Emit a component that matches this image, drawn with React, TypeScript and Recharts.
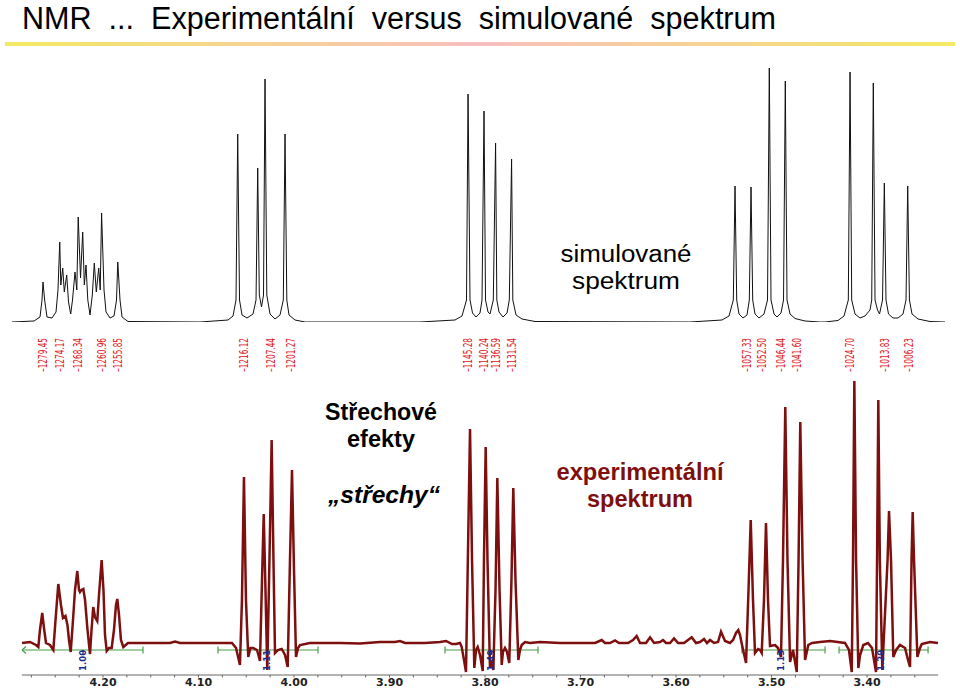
import { ComposedChart, Line, LineChart, ReferenceLine, Scatter, XAxis, YAxis } from 'recharts';

type Pt = [number, number];

// simulated spectrum, [Hz, intensity]
const SIM_GROUP_1: Pt[] = [
  [1289.24, 0], [1282.29, 1], [1280.4, 5], [1279.77, 22], [1279.45, 40], [1278.94, 22], [1278.19, 5],
  [1276.61, 4], [1275.35, 10], [1274.72, 32], [1274.17, 80], [1273.83, 37], [1273.23, 54], [1272.73, 30],
  [1271.97, 47], [1271.4, 20], [1270.71, 8], [1270.14, 22], [1269.35, 50], [1268.78, 32], [1268.34, 105],
  [1267.61, 44], [1266.92, 90], [1266.41, 37], [1265.88, 57], [1265.31, 22], [1264.61, 7], [1263.89, 27],
  [1263.26, 59], [1262.63, 30], [1261.87, 54], [1261.39, 32], [1260.96, 109], [1260.19, 32], [1259.56, 10],
  [1258.3, 4], [1257.04, 6], [1256.25, 22], [1255.85, 60], [1255.14, 22], [1254.51, 5], [1252.62, 0.5],
];
const SIM_GROUP_2: Pt[] = [
  [1229.89, 0], [1221.05, 2], [1219.47, 6], [1218.53, 22], [1217.99, 188], [1217.42, 22], [1216.63, 7],
  [1215.06, 4], [1213.16, 8], [1212.21, 22], [1211.68, 154], [1211.17, 27], [1210.48, 15], [1209.85, 27],
  [1209.37, 243], [1208.81, 27], [1207.79, 8], [1206.22, 3], [1204.64, 7], [1203.6, 22], [1203.06, 188],
  [1202.49, 22], [1201.8, 7], [1199.9, 2], [1196.75, 0],
];
const SIM_GROUP_3: Pt[] = [
  [1160.45, 0], [1149.4, 2], [1147.19, 6], [1145.77, 22], [1145.28, 228], [1144.66, 22], [1143.87, 9],
  [1142.77, 5], [1141.51, 9], [1140.88, 22], [1140.24, 211], [1139.77, 22], [1138.98, 10], [1138.35, 8],
  [1137.31, 22], [1136.59, 179], [1136.2, 22], [1135.51, 10], [1134.25, 5], [1132.98, 9], [1132.26, 22],
  [1131.54, 163], [1131.15, 22], [1130.14, 7], [1128.25, 3], [1124.15, 0.5],
];
const SIM_GROUP_4: Pt[] = [
  [1075.22, 0], [1065.12, 2], [1062.91, 6], [1061.55, 22], [1061.01, 136], [1060.48, 22], [1059.75, 8],
  [1058.49, 4], [1057.23, 7], [1056.5, 22], [1055.96, 135], [1055.43, 22], [1054.7, 8], [1053.44, 4],
  [1051.86, 8], [1050.75, 22], [1050.19, 254], [1049.65, 22], [1048.7, 8], [1047.76, 5], [1046.49, 9],
  [1045.7, 22], [1045.14, 241], [1044.6, 22], [1043.65, 8], [1042.07, 3.5], [1038.92, 1], [1034.18, 0],
];
const SIM_GROUP_5: Pt[] = [
  [1032.6, 0], [1028.5, 1.5], [1026.61, 6], [1025.25, 22], [1024.7, 250], [1024.18, 22], [1023.13, 8],
  [1021.56, 4], [1019.98, 6], [1018.4, 12], [1017.86, 22], [1017.36, 239], [1016.82, 22], [1016.03, 12],
  [1015.4, 8], [1014.45, 22], [1013.88, 139], [1013.35, 22], [1012.56, 8], [1011.14, 4], [1009.56, 4],
  [1007.98, 8], [1007.04, 22], [1006.5, 136], [1005.96, 22], [1005.14, 8], [1003.25, 3], [999.46, 0.5],
  [994.73, 0],
];
const SIM_PEAK_LABELS = [
  1279.45, 1274.17, 1268.34, 1260.96, 1255.85, 1216.12, 1207.44, 1201.27, 1145.28, 1140.24, 1136.59,
  1131.54, 1057.33, 1052.5, 1046.44, 1041.6, 1024.7, 1013.83, 1006.23,
];

// experimental spectrum, [ppm, intensity]
const EXP_GROUP_A: Pt[] = [
  [4.2848, 0], [4.2764, 1], [4.2702, -2], [4.2677, -4], [4.266, 13], [4.2636, 30], [4.2618, 15], [4.2597, 0],
  [4.2555, -2], [4.252, -7], [4.2497, 23], [4.2468, 59], [4.244, 38], [4.2419, 25], [4.2393, 27], [4.2372, 18],
  [4.2356, 3], [4.2338, -9], [4.2314, 23], [4.2293, 53], [4.2269, 72], [4.2251, 53], [4.2241, 51], [4.2225, 53],
  [4.2206, 54], [4.2188, 43], [4.2162, 13], [4.2136, -11], [4.212, 13], [4.2102, 36], [4.2084, 26], [4.206, 22],
  [4.2042, 48], [4.2014, 83], [4.1995, 53], [4.1979, 8], [4.1961, -8], [4.1937, -5], [4.1909, -5], [4.1885, 13],
  [4.1864, 38], [4.185, 44], [4.1832, 28], [4.1812, 3], [4.1787, -4], [4.1738, 0], [4.1613, 0], [4.1298, 0],
  [4.1246, 1.5], [4.1194, 0], [4.0984, 0],
];
const EXP_GROUP_B: Pt[] = [
  [4.0649, 0], [4.0607, -5], [4.0566, -22], [4.0545, 43], [4.0524, 166], [4.0503, 43], [4.0479, -14],
  [4.0456, -5], [4.0429, -5], [4.0387, -7], [4.0356, -18], [4.0335, 63], [4.0317, 129], [4.0301, 63],
  [4.028, -27], [4.0257, 83], [4.0234, 203], [4.0215, 83], [4.0199, -10], [4.0168, -7], [4.0129, -6],
  [4.0094, -12], [4.0066, -24], [4.0042, 83], [4.0021, 173], [4.0, 73], [3.9979, -14], [3.9958, -5],
  [3.9937, -2], [3.9833, 0],
];
const EXP_GROUP_C: Pt[] = [
  [3.9518, 0], [3.9309, -0.5], [3.91, 1], [3.8942, 1], [3.889, 2], [3.8838, 0], [3.8628, 0], [3.8471, 1],
  [3.8408, 2], [3.8346, -1], [3.8304, -1], [3.8262, 0], [3.8244, -4], [3.822, -17], [3.8199, -29], [3.8178, 93],
  [3.8157, 214], [3.8136, 83], [3.8112, -25], [3.8094, -7], [3.8077, -4], [3.8052, -12], [3.8024, -28],
  [3.8011, 83], [3.7993, 196], [3.7974, 83], [3.7948, -25], [3.7932, -17], [3.7913, -27], [3.789, 53],
  [3.7871, 165], [3.7848, 53], [3.7825, -22], [3.7812, -9], [3.7791, -5], [3.777, -9], [3.7746, -20],
  [3.7723, 63], [3.7704, 155], [3.7681, 63], [3.7651, -17], [3.7634, -7], [3.7616, -2], [3.7581, 1],
  [3.7529, 0], [3.7424, 1],
];
const EXP_GROUP_D: Pt[] = [
  [3.7215, 0], [3.7005, 0], [3.6848, 0], [3.6778, 3], [3.6744, 0], [3.6691, 0], [3.6639, 2.5], [3.6597, 0],
  [3.6503, 0], [3.645, 3], [3.6412, 7], [3.6377, 0], [3.6314, 0], [3.6272, 5.7], [3.623, 0], [3.6168, 1],
  [3.6136, 3], [3.6105, 0], [3.6063, 0], [3.6021, 4.5], [3.5979, 0], [3.5916, 0], [3.5836, 5.7], [3.5791, 0],
  [3.5749, 1], [3.5707, 4], [3.5676, 0], [3.5644, 3], [3.5602, 0], [3.556, 1], [3.5529, 11.3], [3.5487, 2],
  [3.5435, 0], [3.5403, 3], [3.5372, 10], [3.5348, 13], [3.533, 8], [3.5309, -2],
];
const EXP_GROUP_E: Pt[] = [
  [3.5267, -20], [3.5241, 53], [3.5218, 123], [3.5194, 43], [3.5173, -10], [3.5141, -6], [3.5121, -7],
  [3.5103, -10], [3.5079, 43], [3.5058, 120], [3.5037, 43], [3.5016, -3], [3.4963, -2], [3.4932, -5],
  [3.4901, -14], [3.488, 83], [3.4856, 236], [3.4833, 83], [3.4806, -19], [3.4775, -7], [3.4736, -29],
  [3.4717, 83], [3.4699, 221], [3.4675, 83], [3.4649, -17], [3.4615, -2], [3.4576, 0], [3.4492, 1],
  [3.4388, 2],
];
const EXP_GROUP_F: Pt[] = [
  [3.4231, 0], [3.4189, -7], [3.416, -29], [3.4147, 83], [3.4133, 262], [3.4115, 83], [3.4091, -25],
  [3.4073, -12], [3.4039, -2], [3.399, 0], [3.3948, -5], [3.3906, -29], [3.3895, 83], [3.3882, 243],
  [3.3866, 83], [3.384, -27], [3.3785, 83], [3.377, 132], [3.3749, 83], [3.3725, -14], [3.3696, -7],
  [3.3655, -2], [3.3602, -5], [3.3571, -17], [3.355, -24], [3.3534, 83], [3.3522, 131], [3.3508, 83],
  [3.3473, -14], [3.3445, -5], [3.3427, -1], [3.3341, 1], [3.3257, 0],
];

const PPM_TICKS = [
  4.275, 4.25, 4.225, 4.2, 4.175, 4.15, 4.125, 4.1, 4.075, 4.05, 4.025, 4.0, 3.975, 3.95, 3.925, 3.9,
  3.875, 3.85, 3.825, 3.8, 3.775, 3.75, 3.725, 3.7, 3.675, 3.65, 3.625, 3.6, 3.575, 3.55, 3.525, 3.5,
  3.475, 3.45, 3.425, 3.4, 3.375, 3.35,
];

const INTEGRAL_FROM = [4.2848, 4.0796, 3.8419, 3.5309, 3.4293];
const INTEGRAL_TO = [4.1581, 3.9749, 3.7445, 3.444, 3.3361];
const INTEGRAL_AT = [4.2209, 4.0283, 3.7937, 3.4901, 3.3853];
const INTEGRAL_VALUES = ['1.00', '1.11', '1.49', '1.13', '1.20'];

const simData = [...SIM_GROUP_1, ...SIM_GROUP_2, ...SIM_GROUP_3, ...SIM_GROUP_4, ...SIM_GROUP_5].map(
  ([hz, v]) => ({ hz, v }),
);
const expData = [...EXP_GROUP_A, ...EXP_GROUP_B, ...EXP_GROUP_C, ...EXP_GROUP_D, ...EXP_GROUP_E, ...EXP_GROUP_F].map(
  ([ppm, v]) => ({ ppm, v }),
);
const integralMarks = INTEGRAL_AT.map((ppm, i) => ({ ppm, v: -28, label: INTEGRAL_VALUES[i] }));

const NARROW = "'Liberation Sans Narrow', 'DejaVu Sans Condensed', sans-serif";
const SANS = "'Liberation Sans', Arial, sans-serif";
const GREEN = '#46a046';
const DARK_RED = '#7d0f0f';

function PeakLabel({ x, payload }: any) {
  return (
    <text
      x={x}
      y={372}
      dy="0.35em"
      transform={`rotate(-90, ${x}, 372)`}
      textLength={34}
      lengthAdjust="spacingAndGlyphs"
      fill="#e0161c"
      fontSize={11.5}
      fontFamily={NARROW}
    >
      –{payload.value.toFixed(2)}
    </text>
  );
}

function PpmTick({ x, payload }: any) {
  const v = payload.value;
  const major = Math.abs(v * 10 - Math.round(v * 10)) < 1e-6;
  return (
    <g>
      <line x1={x} x2={x} y1={675} y2={677.5} stroke="#666" />
      {major && (
        <text x={x} y={685.5} textAnchor="middle" fontSize={11} fontWeight="bold" fontFamily="'DejaVu Sans', sans-serif" fill="#222">
          {v.toFixed(2)}
        </text>
      )}
    </g>
  );
}

function IntegralMark({ cx, cy, payload }: any) {
  return (
    <g>
      <line x1={cx} x2={cx} y1={cy - 21} y2={cy - 16} stroke="#1f2a8a" strokeWidth={1.2} />
      <text
        x={cx}
        y={cy}
        dy="0.35em"
        transform={`rotate(-90, ${cx}, ${cy})`}
        fill="#1f2a8a"
        fontSize={9.5}
        fontWeight="bold"
        fontFamily={NARROW}
      >
        {payload.label}
      </text>
    </g>
  );
}

// centred lines held in one text element
function Caption({ x, lines, bold, italic, fill = '#000', size = 25 }: any) {
  return (
    <text
      textAnchor="middle"
      fontSize={size}
      fontWeight={bold ? 'bold' : 'normal'}
      fontStyle={italic ? 'italic' : 'normal'}
      fontFamily={SANS}
      fill={fill}
    >
      {lines.map(([t, y, w]: [string, number, number]) => (
        <tspan key={t} x={x} y={y} textLength={w} lengthAdjust="spacingAndGlyphs">
          {t}
        </tspan>
      ))}
    </text>
  );
}

export default function App() {
  return (
    <div style={{ position: 'absolute', left: 0, top: 0, width: 960, height: 688, background: '#fff', overflow: 'hidden' }}>
      <div style={{ position: 'absolute', left: 0, top: 0 }}>
        <ComposedChart width={960} height={688} margin={{ top: 370, right: 22, bottom: 0, left: 22 }}>
          <XAxis
            type="number"
            dataKey="ppm"
            domain={[3.3257, 4.2848]}
            reversed
            allowDataOverflow
            ticks={PPM_TICKS}
            interval={0}
            tick={(p: any) => <PpmTick {...p} />}
            tickLine={false}
            axisLine={{ stroke: '#666' }}
            height={13}
          />
          <YAxis type="number" dataKey="v" domain={[-32, 273]} hide allowDataOverflow />
          {INTEGRAL_FROM.map((from, i) => (
            <ReferenceLine
              key={`int-${i}`}
              segment={[{ x: from, y: -7 }, { x: INTEGRAL_TO[i], y: -7 }]}
              stroke={GREEN}
              strokeWidth={1.2}
            />
          ))}
          {INTEGRAL_TO.map((to, i) => (
            <ReferenceLine
              key={`cap-${i}`}
              segment={[{ x: to, y: -3.5 }, { x: to, y: -10.5 }]}
              stroke={GREEN}
              strokeWidth={1.2}
            />
          ))}
          {INTEGRAL_FROM.slice(1).map((from, i) => (
            <ReferenceLine
              key={`capl-${i}`}
              segment={[{ x: from, y: -3.5 }, { x: from, y: -10.5 }]}
              stroke={GREEN}
              strokeWidth={1.2}
            />
          ))}
          <ReferenceLine segment={[{ x: 4.2848, y: -7 }, { x: 4.2806, y: -3.5 }]} stroke={GREEN} strokeWidth={1.2} />
          <ReferenceLine segment={[{ x: 4.2848, y: -7 }, { x: 4.2806, y: -10.5 }]} stroke={GREEN} strokeWidth={1.2} />
          <Scatter data={integralMarks} dataKey="v" shape={IntegralMark} isAnimationActive={false} />
          <Line
            data={expData}
            dataKey="v"
            type="linear"
            stroke={DARK_RED}
            strokeWidth={2.5}
            dot={false}
            isAnimationActive={false}
          />
        </ComposedChart>
      </div>

      <div style={{ position: 'absolute', left: 0, top: 0 }}>
        <LineChart width={960} height={377} data={simData} margin={{ top: 60, right: 15, bottom: 0, left: 12 }}>
          <XAxis
            type="number"
            dataKey="hz"
            domain={[994.73, 1289.24]}
            reversed
            allowDataOverflow
            ticks={SIM_PEAK_LABELS}
            interval={0}
            tick={(p: any) => <PeakLabel {...p} />}
            tickLine={false}
            axisLine={false}
            height={55}
          />
          <YAxis type="number" domain={[0, 262]} hide allowDataOverflow />
          <Line dataKey="v" type="linear" stroke="#111" strokeWidth={1} dot={false} isAnimationActive={false} />
        </LineChart>
      </div>

      <svg width={960} height={688} style={{ position: 'absolute', left: 0, top: 0, pointerEvents: 'none' }}>
        <defs>
          <linearGradient id="rule" x1="0" x2="1" y1="0" y2="0">
            <stop offset="0" stopColor="#f3ea62" />
            <stop offset="0.5" stopColor="#f7bfbf" />
            <stop offset="1" stopColor="#f3ea62" />
          </linearGradient>
        </defs>
        <text
          x={22}
          y={28.5}
          textLength={754}
          lengthAdjust="spacingAndGlyphs"
          fontSize={31}
          fontFamily={SANS}
          fill="#000"
          style={{ whiteSpace: 'pre' }}
        >
          {'NMR  ...  Experimentální  versus  simulované  spektrum'}
        </text>
        <rect x={5} y={42} width={950} height={4} fill="url(#rule)" />

        <Caption x={626} lines={[['simulované', 262, 131], ['spektrum', 289, 108]]} size={23} />
        <Caption x={381} lines={[['Střechové', 420, 112], ['efekty', 447, 68]]} bold size={23} />
        <Caption x={384} lines={[['„střechy“', 503, 112]]} bold italic size={24} />
        <Caption x={640} lines={[['experimentální', 480, 167], ['spektrum', 507, 106]]} bold fill={DARK_RED} size={23} />
      </svg>
    </div>
  );
}
